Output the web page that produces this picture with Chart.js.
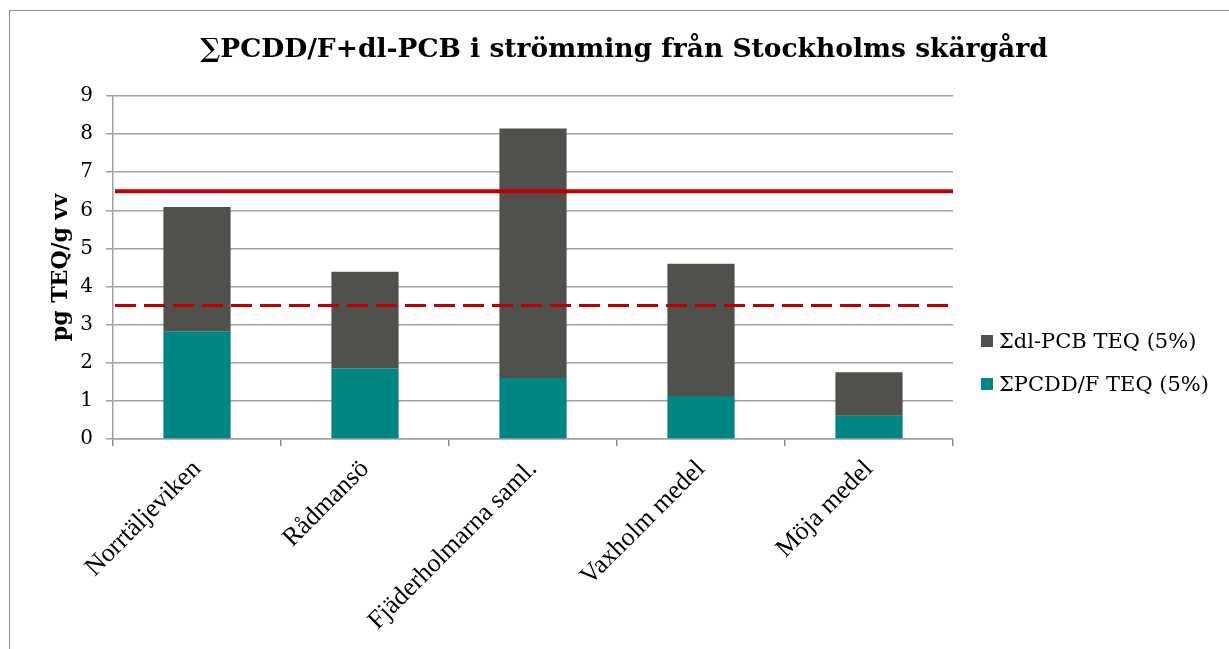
<!DOCTYPE html>
<html>
<head>
<meta charset="utf-8">
<script src="https://cdn.jsdelivr.net/npm/chart.js@4"></script>
<style>
  html, body { margin:0; padding:0; background:#fff; width:1229px; height:649px; overflow:hidden; }
  #frame { position:absolute; left:9px; top:10px; width:1400px; height:800px; border:1px solid #8c8c8c; }
  #wrap { position:absolute; left:0; top:0; width:1229px; height:649px; }
  #title { position:absolute; left:0; top:32px; width:1248px; text-align:center;
           font-family:"DejaVu Serif", serif; font-weight:bold; font-size:26.5px; color:#000; }
  #legend { position:absolute; left:981px; top:330px; font-family:"DejaVu Serif", serif; font-size:21px; color:#000; }
  .li { display:flex; align-items:center; height:22px; margin-bottom:21px; }
  .sw { width:12px; height:12px; margin-right:6px; }
</style>
</head>
<body>
<div id="frame"></div>
<div id="wrap"><canvas id="c" width="1229" height="649"></canvas></div>
<div id="title">∑PCDD/F+dl-PCB i strömming från Stockholms skärgård</div>
<div id="legend"></div>
<script>
const categories = ["Norrtäljeviken", "Rådmansö", "Fjäderholmarna saml.", "Vaxholm medel", "Möja medel"];
const pcddfValues = [2.83, 1.85, 1.60, 1.13, 0.61];
const dlpcbValues = [3.26, 2.54, 6.55, 3.47, 1.14];
const seriesNames = ["ΣPCDD/F TEQ (5%)", "Σdl-PCB TEQ (5%)"];
const thresholdSolid = [6.5];
const thresholdDashed = [3.5];
const yTicks = [0,1,2,3,4,5,6,7,8,9];
const yTitle = "pg TEQ/g vv";

const colors = ["#008585", "#50514c"];

const thresholdPlugin = {
  id: 'thresholds',
  afterDatasetsDraw(chart) {
    const {ctx, chartArea, scales} = chart;
    const y = scales.y;
    ctx.save();
    ctx.strokeStyle = '#c00000';
    thresholdSolid.forEach(v => {
      const py = y.getPixelForValue(v);
      ctx.lineWidth = 4;
      ctx.setLineDash([]);
      ctx.beginPath(); ctx.moveTo(chartArea.left + 2, py); ctx.lineTo(chartArea.right, py); ctx.stroke();
    });
    thresholdDashed.forEach(v => {
      const py = y.getPixelForValue(v);
      ctx.lineWidth = 3;
      ctx.setLineDash([21, 8]);
      ctx.beginPath(); ctx.moveTo(chartArea.left + 2, py); ctx.lineTo(chartArea.right, py); ctx.stroke();
    });
    ctx.restore();
  }
};

new Chart(document.getElementById('c'), {
  type: 'bar',
  data: {
    labels: categories,
    datasets: [
      { label: seriesNames[0], data: pcddfValues, backgroundColor: colors[0], stack: 's' },
      { label: seriesNames[1], data: dlpcbValues, backgroundColor: colors[1], stack: 's' }
    ]
  },
  options: {
    responsive: false,
    animation: false,
    layout: { padding: { left: 0, right: 276, top: 96, bottom: 0 } },
    plugins: { legend: { display: false }, title: { display: false }, tooltip: { enabled: false } },
    datasets: { bar: { categoryPercentage: 1.0, barPercentage: 0.4 } },
    scales: {
      x: {
        stacked: true,
        afterFit(s) { s.height = 210; },
        grid: { drawOnChartArea: false, drawTicks: true, tickLength: 7, color: '#8c8c8c', lineWidth: 1.5 },
        border: { display: true, color: '#a0a0a0', width: 1.5 },
        ticks: { color: '#000', minRotation: 45, maxRotation: 45, padding: 8, autoSkip: false,
                 font: { family: '"Liberation Serif", serif', size: 26 } }
      },
      y: {
        stacked: true,
        min: 0, max: 9,
        afterFit(s) { s.width = 113; },
        afterBuildTicks(s) { s.ticks = yTicks.map(v => ({ value: v })); },
        grid: { color: '#a0a0a0', lineWidth: 1.5, tickLength: 7 },
        border: { display: true, color: '#a0a0a0', width: 1.5 },
        ticks: { color: '#000', padding: 13, font: { family: '"DejaVu Serif", serif', size: 20 } },
        title: { display: true, text: yTitle, color: '#000', padding: { top: 48, bottom: 0 },
                 font: { family: '"DejaVu Serif", serif', size: 22, weight: 'bold' } }
      }
    }
  },
  plugins: [thresholdPlugin]
});

const leg = document.getElementById('legend');
[1, 0].forEach(i => {
  const d = document.createElement('div'); d.className = 'li';
  const sw = document.createElement('div'); sw.className = 'sw'; sw.style.background = colors[i];
  const t = document.createElement('span'); t.textContent = seriesNames[i];
  d.appendChild(sw); d.appendChild(t); leg.appendChild(d);
});
</script>
</body>
</html>
